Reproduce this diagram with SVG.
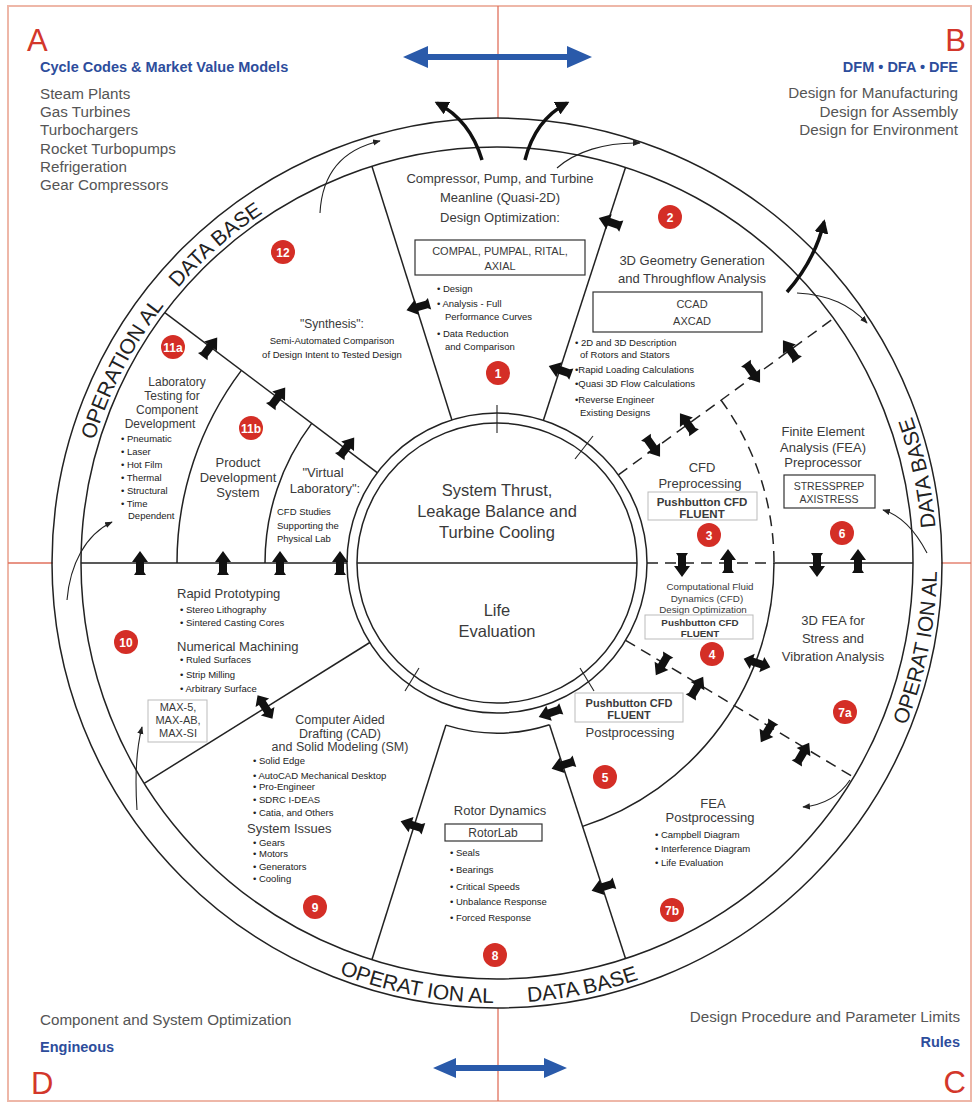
<svg xmlns="http://www.w3.org/2000/svg" xmlns:xlink="http://www.w3.org/1999/xlink" width="977" height="1106" viewBox="0 0 977 1106">
<style>
text{font-family:"Liberation Sans",Arial,sans-serif;fill:#3a3a3a}
.ln{stroke:#222;stroke-width:1.5;fill:none}
.dash{stroke:#222;stroke-width:1.5;fill:none;stroke-dasharray:11 7}
.thin{stroke:#222;stroke-width:1.1;fill:none}
.red{stroke:#e0705c;stroke-width:1.3}
.letter{font-size:31px;fill:#d3372b}
.blue{font-size:14.5px;font-weight:bold;fill:#2d4d9c}
.gray{font-size:15.2px;fill:#555}
.h{font-size:13px;text-anchor:middle}
.m{text-anchor:middle}
.s{font-size:9.5px;fill:#222}
.box{fill:none;stroke:#333;stroke-width:1.2}
.lbox{fill:none;stroke:#bbb;stroke-width:1}
.band{font-size:21px;fill:#222}
.badge circle{fill:#d42e26}
.badge text{fill:#fff;font-size:12px;font-weight:bold;text-anchor:middle}
.bone{fill:#111}
</style>
<defs>
<path id="b1" d="M-12,-6 L-9,-4 L1,-4 L1,-8 L12,0 L1,8 L1,4 L-9,4 L-12,6 Z"/>
<path id="b2" d="M-14,0 L-5,-8 L-5,-4 L5,-4 L5,-8 L14,0 L5,8 L5,4 L-5,4 L-5,8 Z"/>
<marker id="ah" viewBox="0 0 10 10" refX="9" refY="5" markerWidth="7" markerHeight="7" orient="auto"><path d="M0,1 L10,5 L0,9 Z" fill="#222"/></marker>
<marker id="ahb" viewBox="0 0 10 10" refX="8" refY="5" markerWidth="4" markerHeight="4" orient="auto"><path d="M0,0 L10,5 L0,10 Z" fill="#111"/></marker>
<path id="tpUL" d="M 82.4 489.9 A 421 421 0 0 1 353 167.4"/>
<path id="tpR" d="M 878 783 A 440 440 0 0 0 878 343"/>
<path id="tpB" d="M 277 944 A 440 440 0 0 0 717 944"/>
</defs>
<rect x="0" y="0" width="977" height="1106" fill="#fff"/>
<rect x="8" y="6" width="963" height="1095" fill="none" stroke="#eeb7a8" stroke-width="2"/>

<g id="quadrant-lines">
<line class="red" x1="498" y1="6" x2="498" y2="118"/>
<line class="red" x1="498" y1="1008" x2="498" y2="1101"/>
<line class="red" x1="8" y1="563" x2="53" y2="563"/>
<line class="red" x1="941" y1="563" x2="971" y2="563"/>
</g>

<g id="corner-A">
<text class="letter" x="27" y="51">A</text>
<text class="blue" x="40" y="72">Cycle Codes &amp; Market Value Models</text>
<text class="gray" x="40" y="99">Steam Plants</text>
<text class="gray" x="40" y="117">Gas Turbines</text>
<text class="gray" x="40" y="135">Turbochargers</text>
<text class="gray" x="40" y="154">Rocket Turbopumps</text>
<text class="gray" x="40" y="172">Refrigeration</text>
<text class="gray" x="40" y="190">Gear Compressors</text>
</g>
<g id="corner-B">
<text class="letter" x="966" y="51" text-anchor="end">B</text>
<text class="blue" x="958" y="72" text-anchor="end">DFM • DFA • DFE</text>
<text class="gray" x="958" y="98" text-anchor="end">Design for Manufacturing</text>
<text class="gray" x="958" y="117" text-anchor="end">Design for Assembly</text>
<text class="gray" x="958" y="135" text-anchor="end">Design for Environment</text>
</g>
<g id="corner-D">
<text class="gray" x="40" y="1025">Component and System Optimization</text>
<text class="blue" x="40" y="1052">Engineous</text>
<text class="letter" x="31" y="1094">D</text>
</g>
<g id="corner-C">
<text class="gray" x="960" y="1022" text-anchor="end">Design Procedure and Parameter Limits</text>
<text class="blue" x="960" y="1047" text-anchor="end">Rules</text>
<text class="letter" x="966" y="1093" text-anchor="end">C</text>
</g>

<g id="blue-arrows" fill="#2a5aaa">
<path d="M403,57 L428,46 L428,54 L567,54 L567,46 L592,57 L567,68 L567,60 L428,60 L428,68 Z"/>
<path d="M433,1068 L456,1058 L456,1065 L544,1065 L544,1058 L567,1068 L544,1078 L544,1071 L456,1071 L456,1078 Z"/>
</g>

<g id="rings">
<circle class="ln" cx="497" cy="563" r="445"/>
<circle class="ln" cx="497" cy="563" r="416"/>
<circle class="ln" cx="497" cy="563" r="150"/>
<circle class="ln" cx="497" cy="563" r="140"/>
<line class="ln" x1="357" y1="563" x2="637" y2="563"/>
</g>

<g id="band-text">
<text class="band"><textPath href="#tpUL" startOffset="51">OPERATION AL</textPath></text>
<text class="band"><textPath href="#tpUL" startOffset="226">DATA BASE</textPath></text>
<text class="band"><textPath href="#tpR" startOffset="64">OPERAT ION AL</textPath></text>
<text class="band"><textPath href="#tpR" startOffset="266">DATA BASE</textPath></text>
<text class="band"><textPath href="#tpB" startOffset="69">OPERAT ION AL</textPath></text>
<text class="band"><textPath href="#tpB" startOffset="261">DATA BASE</textPath></text>
</g>

<g id="dividers">
<line class="ln" x1="451.9" y1="419.9" x2="371.9" y2="166.3"/>
<line class="ln" x1="543.4" y1="420.3" x2="625.5" y2="167.4"/>
<line class="dash" x1="618.4" y1="474.8" x2="833.5" y2="318.5"/>
<line class="dash" x1="647" y1="563" x2="774" y2="563"/>
<line class="ln" x1="774" y1="563" x2="913" y2="563"/>
<line class="dash" x1="625.6" y1="640.3" x2="853.6" y2="777.2"/>
<line class="ln" x1="549.5" y1="724.7" x2="625.5" y2="958.6"/>
<line class="ln" x1="445.9" y1="725.1" x2="371.9" y2="959.7"/>
<line class="ln" x1="369.8" y1="642.5" x2="144.2" y2="783.4"/>
<line class="ln" x1="81" y1="563" x2="347" y2="563"/>
<line class="ln" x1="377.2" y1="472.7" x2="164.8" y2="312.6"/>
<path class="dash" d="M 721.1 400.2 A 277 277 0 0 1 774 563"/>
<path class="ln" d="M 774 563 A 277 277 0 0 1 582.6 826.4"/>
<path class="ln" d="M 549.5 724.7 A 170 170 0 0 1 445.9 725.1"/>
<path class="ln" d="M 241.4 370.4 A 320 320 0 0 0 177 563"/>
<path class="ln" d="M 311.7 423.4 A 232 232 0 0 0 265 563"/>
</g>

<g id="node-center">
<text x="497" y="496" font-size="16.5" class="m">System Thrust,</text>
<text x="497" y="517" font-size="16.5" class="m">Leakage Balance and</text>
<text x="497" y="538" font-size="16.5" class="m">Turbine Cooling</text>
<text x="497" y="616" font-size="16.5" class="m">Life</text>
<text x="497" y="637" font-size="16.5" class="m">Evaluation</text>
</g>

<g id="node-1">
<text class="h" x="500" y="183">Compressor, Pump, and Turbine</text>
<text class="h" x="500" y="202">Meanline (Quasi-2D)</text>
<text class="h" x="500" y="222">Design Optimization:</text>
<rect class="box" x="415" y="240" width="170" height="35"/>
<text class="m" x="500" y="255" font-size="11">COMPAL, PUMPAL, RITAL,</text>
<text class="m" x="500" y="270" font-size="11">AXIAL</text>
<text class="s" x="437" y="292">• Design</text>
<text class="s" x="437" y="307">• Analysis - Full</text>
<text class="s" x="445" y="320">Performance Curves</text>
<text class="s" x="437" y="337">• Data Reduction</text>
<text class="s" x="445" y="350">and Comparison</text>
<g class="badge"><circle cx="498" cy="373" r="12"/><text x="498" y="377.5">1</text></g>
</g>

<g id="node-2">
<g class="badge"><circle cx="670" cy="217" r="12"/><text x="670" y="221.5">2</text></g>
<text class="h" x="692" y="265">3D Geometry Generation</text>
<text class="h" x="692" y="283">and Throughflow Analysis</text>
<rect class="box" x="593" y="292" width="169" height="40"/>
<text class="m" x="692" y="308" font-size="11">CCAD</text>
<text class="m" x="692" y="325" font-size="11">AXCAD</text>
<text class="s" x="575" y="346">• 2D and 3D Description</text>
<text class="s" x="580" y="358">of Rotors and Stators</text>
<text class="s" x="575" y="373">•Rapid Loading Calculations</text>
<text class="s" x="575" y="387">•Quasi 3D Flow Calculations</text>
<text class="s" x="575" y="403">•Reverse Engineer</text>
<text class="s" x="580" y="416">Existing Designs</text>
</g>

<g id="node-12">
<g class="badge"><circle cx="283" cy="252" r="12"/><text x="283" y="256.5">12</text></g>
<text class="m" x="332" y="328" font-size="12">"Synthesis":</text>
<text class="m s" x="332" y="344" font-size="9">Semi-Automated Comparison</text>
<text class="m s" x="332" y="358" font-size="9">of Design Intent to Tested Design</text>
</g>

<g id="node-11a">
<g class="badge"><circle cx="173" cy="347" r="12"/><text x="173" y="351.5">11a</text></g>
<text class="m" font-size="12" x="177" y="386">Laboratory</text>
<text class="m" font-size="12" x="172" y="400">Testing for</text>
<text class="m" font-size="12" x="167" y="414">Component</text>
<text class="m" font-size="12" x="160" y="428">Development</text>
<text class="s" x="121" y="442">• Pneumatic</text>
<text class="s" x="121" y="455">• Laser</text>
<text class="s" x="121" y="468">• Hot Film</text>
<text class="s" x="121" y="481">• Thermal</text>
<text class="s" x="121" y="494">• Structural</text>
<text class="s" x="121" y="507">• Time</text>
<text class="s" x="128" y="519">Dependent</text>
</g>

<g id="node-11b">
<g class="badge"><circle cx="251" cy="428" r="12"/><text x="251" y="432.5">11b</text></g>
<text class="h" x="238" y="467">Product</text>
<text class="h" x="238" y="482">Development</text>
<text class="h" x="238" y="497">System</text>
</g>

<g id="node-virtual-lab">
<text class="h" x="323" y="477">"Virtual</text>
<text class="h" x="325" y="493">Laboratory":</text>
<text class="s" x="277" y="515">CFD Studies</text>
<text class="s" x="277" y="529">Supporting the</text>
<text class="s" x="277" y="542">Physical Lab</text>
</g>

<g id="node-3">
<text class="h" x="702" y="472">CFD</text>
<text class="h" x="700" y="488">Preprocessing</text>
<rect class="lbox" x="648" y="492" width="109" height="28"/>
<text class="m" x="702" y="505.5" font-size="11.5" font-weight="bold" fill="#555">Pushbutton CFD</text>
<text class="m" x="702" y="518" font-size="11.5" font-weight="bold" fill="#555">FLUENT</text>
<g class="badge"><circle cx="709" cy="535" r="12"/><text x="709" y="539.5">3</text></g>
</g>

<g id="node-6">
<text class="h" x="823" y="436">Finite Element</text>
<text class="h" x="823" y="452">Analysis (FEA)</text>
<text class="h" x="823" y="467">Preprocessor</text>
<rect class="box" x="784" y="475" width="91" height="33"/>
<text class="m" x="829" y="490" font-size="10.5">STRESSPREP</text>
<text class="m" x="829" y="503" font-size="10.5">AXISTRESS</text>
<g class="badge"><circle cx="842" cy="533" r="12"/><text x="842" y="537.5">6</text></g>
</g>

<g id="node-4">
<text class="m" x="710" y="590" font-size="9.8">Computational Fluid</text>
<text class="m" x="707" y="601.5" font-size="9.8">Dynamics (CFD)</text>
<text class="m" x="703" y="613" font-size="9.8">Design Optimization</text>
<rect class="lbox" x="645" y="615" width="108" height="24"/>
<text class="m" x="700" y="626" font-size="9.8" font-weight="bold" fill="#666">Pushbutton CFD</text>
<text class="m" x="700" y="637" font-size="9.8" font-weight="bold" fill="#666">FLUENT</text>
<g class="badge"><circle cx="712" cy="654" r="12"/><text x="712" y="658.5">4</text></g>
</g>

<g id="node-7a">
<text class="h" x="833" y="625">3D FEA for</text>
<text class="h" x="833" y="643">Stress and</text>
<text class="h" x="833" y="661">Vibration Analysis</text>
<g class="badge"><circle cx="845" cy="712" r="12"/><text x="845" y="716.5">7a</text></g>
</g>

<g id="node-5">
<rect class="lbox" x="575" y="693" width="108" height="29"/>
<text class="m" x="629" y="707" font-size="11" font-weight="bold" fill="#666">Pushbutton CFD</text>
<text class="m" x="629" y="719" font-size="11" font-weight="bold" fill="#666">FLUENT</text>
<text class="h" x="630" y="737">Postprocessing</text>
<g class="badge"><circle cx="605" cy="777" r="12"/><text x="605" y="781.5">5</text></g>
</g>

<g id="node-7b">
<text class="h" x="713" y="808">FEA</text>
<text class="h" x="710" y="822">Postprocessing</text>
<text class="s" x="655" y="838">• Campbell Diagram</text>
<text class="s" x="655" y="852">• Interference Diagram</text>
<text class="s" x="655" y="866">• Life Evaluation</text>
<g class="badge"><circle cx="672" cy="910" r="12"/><text x="672" y="914.5">7b</text></g>
</g>

<g id="node-8">
<text class="h" x="500" y="815">Rotor Dynamics</text>
<rect class="box" x="445" y="824" width="97" height="17"/>
<text class="m" x="493" y="837" font-size="12">RotorLab</text>
<text class="s" x="450" y="856">• Seals</text>
<text class="s" x="450" y="873">• Bearings</text>
<text class="s" x="450" y="890">• Critical Speeds</text>
<text class="s" x="450" y="905">• Unbalance Response</text>
<text class="s" x="450" y="921">• Forced Response</text>
<g class="badge"><circle cx="495" cy="955" r="12"/><text x="495" y="959.5">8</text></g>
</g>

<g id="node-9">
<text class="m" font-size="12.5" x="340" y="724">Computer Aided</text>
<text class="m" font-size="12.5" x="340" y="737.5">Drafting (CAD)</text>
<text class="m" font-size="12.5" x="340" y="751">and Solid Modeling (SM)</text>
<text class="s" x="253" y="764">• Solid Edge</text>
<text class="s" x="253" y="779">• AutoCAD Mechanical Desktop</text>
<text class="s" x="253" y="790">• Pro-Engineer</text>
<text class="s" x="253" y="803">• SDRC I-DEAS</text>
<text class="s" x="253" y="816">• Catia, and Others</text>
<text x="247" y="833" font-size="13">System Issues</text>
<text class="s" x="253" y="846">• Gears</text>
<text class="s" x="253" y="857">• Motors</text>
<text class="s" x="253" y="870">• Generators</text>
<text class="s" x="253" y="882">• Cooling</text>
<g class="badge"><circle cx="315" cy="907" r="12"/><text x="315" y="911.5">9</text></g>
</g>

<g id="node-10">
<text x="177" y="598" font-size="13">Rapid Prototyping</text>
<text class="s" x="180" y="613">• Stereo Lithography</text>
<text class="s" x="180" y="626">• Sintered Casting Cores</text>
<text x="177" y="651" font-size="13">Numerical Machining</text>
<text class="s" x="180" y="663">• Ruled Surfaces</text>
<text class="s" x="180" y="678">• Strip Milling</text>
<text class="s" x="180" y="692">• Arbitrary Surface</text>
<g class="badge"><circle cx="126" cy="642" r="12"/><text x="126" y="646.5">10</text></g>
<rect class="lbox" x="148" y="700" width="59" height="42"/>
<text class="m" x="178" y="711" font-size="11">MAX-5,</text>
<text class="m" x="178" y="724" font-size="11">MAX-AB,</text>
<text class="m" x="178" y="737" font-size="11">MAX-SI</text>
</g>

<g id="connectors">
<g class="bone">
<use href="#b1" transform="translate(140,563) rotate(-90)"/>
<use href="#b1" transform="translate(223,563) rotate(-90)"/>
<use href="#b1" transform="translate(280,563) rotate(-90)"/>
<use href="#b1" transform="translate(340,563) rotate(-90)"/>
<use href="#b1" transform="translate(210,347) rotate(-53)"/>
<use href="#b1" transform="translate(278,397) rotate(-53)"/>
<use href="#b1" transform="translate(347,447) rotate(-53)"/>
<use href="#b1" transform="translate(418,307) rotate(164)"/>
<use href="#b1" transform="translate(610,222) rotate(200)"/>
<use href="#b1" transform="translate(560,370) rotate(200)"/>
<use href="#b1" transform="translate(790,350) rotate(-126)"/>
<use href="#b1" transform="translate(753,373) rotate(54)"/>
<use href="#b1" transform="translate(687,423) rotate(-126)"/>
<use href="#b1" transform="translate(653,447) rotate(54)"/>
<use href="#b1" transform="translate(682,565) rotate(90)"/>
<use href="#b1" transform="translate(728,561) rotate(-90)"/>
<use href="#b1" transform="translate(817,565) rotate(90)"/>
<use href="#b1" transform="translate(858,561) rotate(-90)"/>
<use href="#b1" transform="translate(662,665) rotate(121)"/>
<use href="#b1" transform="translate(697,687) rotate(-59)"/>
<use href="#b1" transform="translate(767,732) rotate(121)"/>
<use href="#b1" transform="translate(803,753) rotate(-59)"/>
<use href="#b2" transform="translate(757,663) rotate(18)"/>
<use href="#b1" transform="translate(550,713) rotate(160)"/>
<use href="#b1" transform="translate(563,765) rotate(162)"/>
<use href="#b1" transform="translate(603,887) rotate(162)"/>
<use href="#b1" transform="translate(412,825) rotate(-162)"/>
<use href="#b2" transform="translate(265,707) rotate(58)"/>
</g>
<g id="ring-ticks">
<line class="thin" x1="497" y1="433" x2="497" y2="405"/>
<line class="thin" x1="575" y1="459" x2="593" y2="436"/>
<line class="thin" x1="580" y1="668" x2="594" y2="691"/>
<line class="thin" x1="419" y1="668" x2="405" y2="691"/>
</g>
<g id="top-swooshes">
<path d="M482,160 Q470,120 437,103" stroke="#111" stroke-width="3.5" fill="none" marker-end="url(#ahb)"/>
<path d="M525,160 Q535,120 567,103" stroke="#111" stroke-width="3.5" fill="none" marker-end="url(#ahb)"/>
<path d="M787,292 Q815,260 824,222" stroke="#111" stroke-width="3.5" fill="none" marker-end="url(#ahb)"/>
</g>
<g id="thin-arrows">
<path class="thin" d="M320,213 C322,175 340,150 380,141" marker-end="url(#ah)"/>
<path class="thin" d="M557,168 C575,152 605,142 640,143" marker-end="url(#ah)"/>
<path class="thin" d="M797,293 C830,295 850,305 867,323" marker-end="url(#ah)"/>
<path class="thin" d="M927,553 C915,530 900,515 883,510" marker-end="url(#ah)"/>
<path class="thin" d="M850,780 C840,795 825,805 803,807" marker-end="url(#ah)"/>
<path class="thin" d="M137,810 C135,780 136,750 142,727" marker-end="url(#ah)"/>
<path class="thin" d="M67,600 C70,565 85,535 112,522" marker-end="url(#ah)"/>
</g>
</g>
</svg>
